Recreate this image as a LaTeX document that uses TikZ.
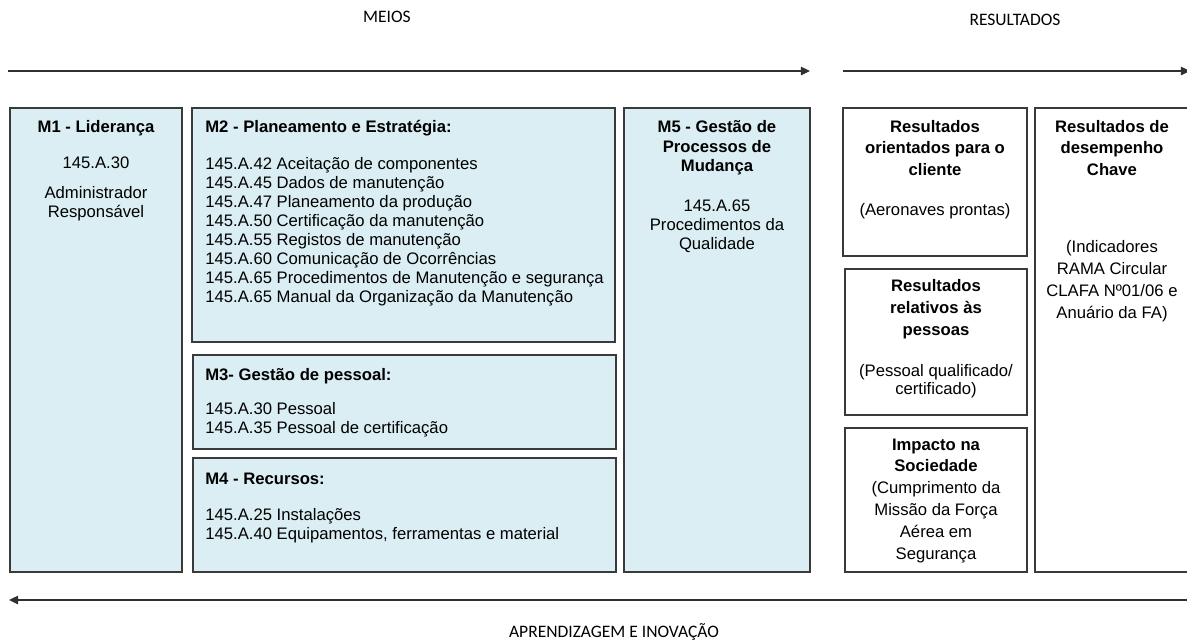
\documentclass[tikz,border=0pt]{standalone}
\usepackage{fontspec}
\setmainfont{Liberation Sans}
\newfontfamily\calibrifont{Carlito}
\usetikzlibrary{arrows.meta,fit}
\definecolor{boxblue}{HTML}{DAEEF3}
\definecolor{edgegray}{HTML}{3A3A3A}
\definecolor{arrowgray}{HTML}{303030}
\begin{document}
\begin{tikzpicture}[x=0.6pt,y=-0.6pt,
  mbox/.style={draw=edgegray, line width=0.8pt, fill=boxblue, inner sep=0pt},
  rbox/.style={draw=edgegray, line width=0.8pt, fill=white, inner sep=0pt},
  txt/.style={anchor=base, inner sep=0pt, font=\fontsize{10}{12}\selectfont},
  txtl/.style={anchor=base west, inner sep=0pt, font=\fontsize{10}{12}\selectfont},
  bold/.style={anchor=base, inner sep=0pt, font=\fontsize{10}{12}\selectfont\bfseries},
  boldl/.style={anchor=base west, inner sep=0pt, font=\fontsize{10}{12}\selectfont\bfseries},
  lab/.style={anchor=base, inner sep=0pt, font=\calibrifont\fontsize{10.5}{12}\selectfont},
  flow/.style={draw=arrowgray, line width=1.1pt, -{Triangle[length=5.5pt,width=5pt]}}]
\useasboundingbox (0,0) rectangle (1187,641);

% labels and arrows
\node[lab] (meios) at (387,22) {MEIOS};
\node[lab] (resultados) at (1015,25) {RESULTADOS};
\node[lab] (aprend) at (614,637) {APRENDIZAGEM E INOVAÇÃO};
\coordinate (a1s) at (8,71);
\coordinate (a1e) at (810,71);
\coordinate (a2s) at (843,71);
\coordinate (a2e) at (1190,71);
\coordinate (a3s) at (1190,600);
\coordinate (a3e) at (9,600);
\draw[flow] (a1s) -- (a1e);
\draw[flow] (a2s) -- (a2e);
\draw[flow] (a3s) -- (a3e);

% boxes
\node[mbox, fit={(10,108) (182,572)}] (m1) {};
\node[mbox, fit={(192,108) (615,342)}] (m2) {};
\node[mbox, fit={(193,355) (616,449)}] (m3) {};
\node[mbox, fit={(193,458) (616,572)}] (m4) {};
\node[mbox, fit={(624,108) (810,572)}] (m5) {};
\node[rbox, fit={(843,108) (1027,256)}] (r1) {};
\node[rbox, fit={(845,269) (1027,415)}] (r2) {};
\node[rbox, fit={(845,428) (1027,572)}] (r3) {};
\node[rbox, fit={(1035,108) (1192,572)}] (r4) {};

% M1
\node[bold] (m1a) at (96,132) {M1 - Liderança};
\node[txt] (m1b) at (96,168) {145.A.30};
\node[txt] (m1c) at (96,198) {Administrador};
\node[txt] (m1d) at (96,217) {Responsável};

% M2
\node[boldl] (m2a) at (205,132) {M2 - Planeamento e Estratégia:};
\node[txtl] (m2b) at (205,169) {145.A.42 Aceitação de componentes};
\node[txtl] (m2c) at (205,188) {145.A.45 Dados de manutenção};
\node[txtl] (m2d) at (205,207) {145.A.47 Planeamento da produção};
\node[txtl] (m2e) at (205,226) {145.A.50 Certificação da manutenção};
\node[txtl] (m2f) at (205,245) {145.A.55 Registos de manutenção};
\node[txtl] (m2g) at (205,264) {145.A.60 Comunicação de Ocorrências};
\node[txtl] (m2h) at (205,283) {145.A.65 Procedimentos de Manutenção e segurança};
\node[txtl] (m2i) at (205,302) {145.A.65 Manual da Organização da Manutenção};

% M3
\node[boldl] (m3a) at (205,380) {M3- Gestão de pessoal:};
\node[txtl] (m3b) at (205,414) {145.A.30 Pessoal};
\node[txtl] (m3c) at (205,433) {145.A.35 Pessoal de certificação};

% M4
\node[boldl] (m4a) at (205,484) {M4 - Recursos:};
\node[txtl] (m4b) at (205,520) {145.A.25 Instalações};
\node[txtl] (m4c) at (205,539) {145.A.40 Equipamentos, ferramentas e material};

% M5
\node[bold] (m5a) at (717,132) {M5 - Gestão de};
\node[bold] (m5b) at (717,152) {Processos de};
\node[bold] (m5c) at (717,171) {Mudança};
\node[txt] (m5d) at (717,211) {145.A.65};
\node[txt] (m5e) at (717,230) {Procedimentos da};
\node[txt] (m5f) at (717,249) {Qualidade};

% R1
\node[bold] (r1a) at (935,132) {Resultados};
\node[bold] (r1b) at (935,153) {orientados para o};
\node[bold] (r1c) at (935,175) {cliente};
\node[txt] (r1d) at (935,215) {(Aeronaves prontas)};

% R2
\node[bold] (r2a) at (936,291) {Resultados};
\node[bold] (r2b) at (936,313) {relativos às};
\node[bold] (r2c) at (936,335) {pessoas};
\node[txt] (r2d) at (936,376) {(Pessoal qualificado/};
\node[txt] (r2e) at (936,394) {certificado)};

% R3
\node[bold] (r3a) at (936,450) {Impacto na};
\node[bold] (r3b) at (936,471) {Sociedade};
\node[txt] (r3c) at (936,493) {(Cumprimento da};
\node[txt] (r3d) at (936,515) {Missão da Força};
\node[txt] (r3e) at (936,537) {Aérea em};
\node[txt] (r3f) at (936,559) {Segurança};

% R4
\node[bold] (r4a) at (1112,132) {Resultados de};
\node[bold] (r4b) at (1112,153) {desempenho};
\node[bold] (r4c) at (1112,175) {Chave};
\node[txt] (r4d) at (1112,252) {(Indicadores};
\node[txt] (r4e) at (1112,274) {RAMA Circular};
\node[txt] (r4f) at (1112,296) {CLAFA Nº01/06 e};
\node[txt] (r4g) at (1112,318) {Anuário da FA)};
\end{tikzpicture}
\end{document}
